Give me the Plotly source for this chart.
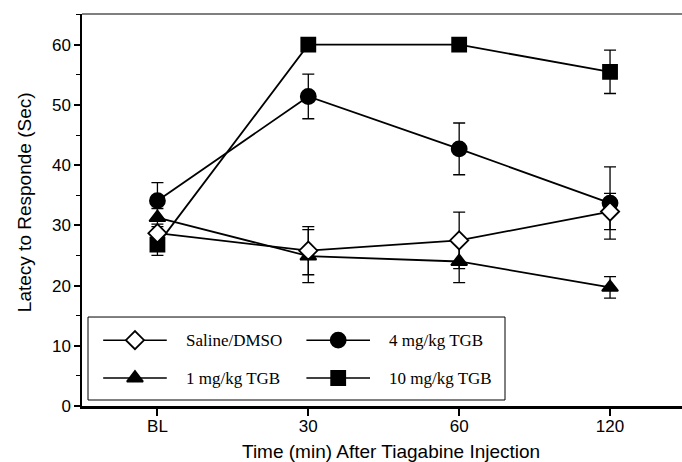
import plotly.graph_objects as go

categories = ["BL", "30", "60", "120"]
series_names = ["Saline/DMSO", "4 mg/kg TGB", "1 mg/kg TGB", "10 mg/kg TGB"]
saline = [28.7, 25.8, 27.5, 32.3]
saline_err = [1.5, 4.0, 4.7, 3.0]
tgb4 = [34.1, 51.4, 42.7, 33.7]
tgb4_err = [3.0, 3.7, 4.3, 6.0]
tgb1 = [31.3, 24.9, 24.0, 19.7]
tgb1_err = [1.5, 4.4, 3.5, 1.8]
tgb10 = [26.8, 60.0, 60.0, 55.5]
tgb10_err = [1.8, 0.4, 0.4, 3.6]
y_ticks = [0, 10, 20, 30, 40, 50, 60]

symbols = ["diamond", "circle", "triangle-up", "square"]
fills = ["white", "black", "black", "black"]
values = [saline, tgb4, tgb1, tgb10]
errors = [saline_err, tgb4_err, tgb1_err, tgb10_err]
sizes = [14, 15, 14, 14]

fig = go.Figure()
order = [3, 1, 2, 0]
for i in order:
    fig.add_trace(go.Scatter(
        x=list(range(len(categories))), y=values[i], name=series_names[i],
        mode="lines+markers",
        line=dict(color="black", width=1.8),
        marker=dict(symbol=symbols[i], size=sizes[i], color=fills[i],
                    line=dict(color="black", width=1.8)),
        error_y=dict(type="data", array=errors[i], color="black", thickness=1.3, width=6),
        showlegend=False,
    ))

# custom legend on an overlay axis (0..1 in plot area)
leg_pos = [(0.0883, 0.168), (0.427, 0.168), (0.0883, 0.0714), (0.427, 0.0714)]
for i in range(4):
    cx, cy = leg_pos[i]
    fig.add_trace(go.Scatter(
        x=[cx - 0.053, cx, cx + 0.053], y=[cy, cy, cy], xaxis="x2", yaxis="y2",
        mode="lines", line=dict(color="black", width=1.5), showlegend=False, hoverinfo="skip"))
    fig.add_trace(go.Scatter(
        x=[cx], y=[cy], xaxis="x2", yaxis="y2", mode="markers",
        marker=dict(symbol=symbols[i], size=sizes[i], color=fills[i],
                    line=dict(color="black", width=1.8)),
        showlegend=False, hoverinfo="skip"))
    fig.add_annotation(x=cx + 0.082, y=cy, xref="x2", yref="y2", text=series_names[i],
                       showarrow=False, xanchor="left", yanchor="middle",
                       font=dict(family="Liberation Serif", size=17, color="black"))

fig.add_shape(type="rect", xref="x2", yref="y2", x0=0.01, x1=0.705, y0=0.0153, y1=0.227,
              line=dict(color="black", width=1), fillcolor="rgba(0,0,0,0)")

# axis titles as annotations
fig.add_annotation(x=0.515, y=-0.117, xref="paper", yref="paper", yanchor="middle",
                   text="Time (min) After Tiagabine Injection", showarrow=False,
                   font=dict(family="Liberation Sans", size=19, color="black"))
fig.add_annotation(x=-0.0967, y=0.52, xref="paper", yref="paper", xanchor="center", yanchor="middle",
                   text="Latecy to Responde (Sec)", showarrow=False, textangle=-90,
                   font=dict(family="Liberation Sans", size=19, color="black"))

fig.update_layout(
    width=682, height=462,
    margin=dict(l=82, r=0, t=14, b=56),
    paper_bgcolor="white", plot_bgcolor="white",
    font=dict(family="Liberation Sans", size=17, color="black"),
    xaxis=dict(
        range=[-0.5, 3.477], tickmode="array", tickvals=list(range(len(categories))),
        ticktext=categories, showline=True, linecolor="black", linewidth=2.5, mirror=False,
        ticks="outside", ticklen=7, tickwidth=1.5, tickcolor="black", showgrid=False, zeroline=False,
        automargin=False, ticklabelstandoff=-4,
    ),
    yaxis=dict(
        range=[0, 65.1], tickmode="array", tickvals=y_ticks,
        showline=True, linecolor="black", linewidth=1.5, ticks="outside", ticklen=6, tickwidth=1.5,
        tickcolor="black", showgrid=False, zeroline=False, automargin=False,
        minor=dict(tickvals=[5, 15, 25, 35, 45, 55, 65], ticks="outside", ticklen=4, tickwidth=1, tickcolor="black"),
    ),
    xaxis2=dict(range=[0, 1], overlaying="x", visible=False, domain=[0, 1]),
    yaxis2=dict(range=[0, 1], overlaying="y", visible=False, anchor="x2"),
)
fig.add_shape(type="line", xref="paper", yref="paper", x0=0, x1=1, y0=1, y1=1,
              line=dict(color="black", width=1.2))

fig.write_html("out.html", config={"displayModeBar": False},
               post_script="document.body.style.margin='0';document.body.style.overflow='hidden';")
